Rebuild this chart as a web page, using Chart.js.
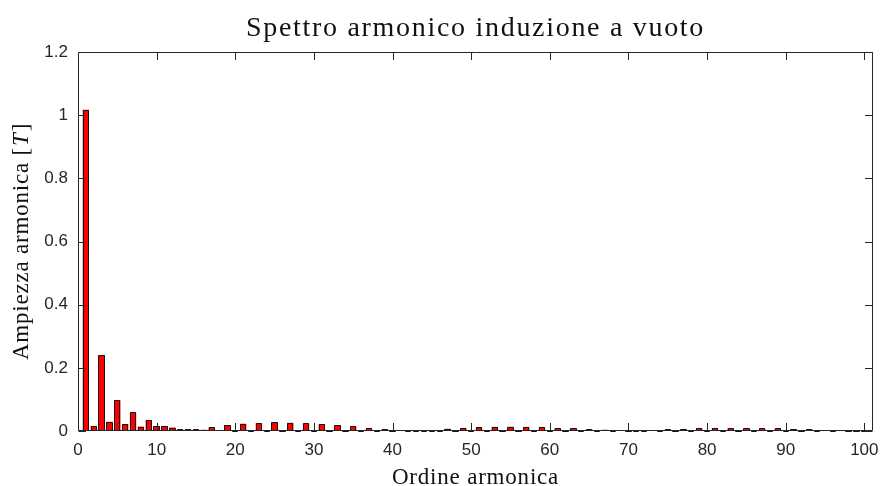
<!DOCTYPE html>
<html>
<head>
<meta charset="utf-8">
<title>Spettro armonico induzione a vuoto</title>
<script src="https://cdn.jsdelivr.net/npm/chart.js@4/dist/chart.umd.min.js"></script>
<style>
  html, body { margin: 0; padding: 0; background: #fff; }
  #wrap { width: 880px; height: 486px; }
</style>
</head>
<body>
<div id="wrap"><canvas id="c" width="880" height="486"></canvas></div>
<script>
// Harmonic orders 1..100 and the amplitude of each harmonic of the no-load flux density [T]
const harmonicOrders = [
  1, 2, 3, 4, 5, 6, 7, 8, 9, 10,
  11, 12, 13, 14, 15, 16, 17, 18, 19, 20,
  21, 22, 23, 24, 25, 26, 27, 28, 29, 30,
  31, 32, 33, 34, 35, 36, 37, 38, 39, 40,
  41, 42, 43, 44, 45, 46, 47, 48, 49, 50,
  51, 52, 53, 54, 55, 56, 57, 58, 59, 60,
  61, 62, 63, 64, 65, 66, 67, 68, 69, 70,
  71, 72, 73, 74, 75, 76, 77, 78, 79, 80,
  81, 82, 83, 84, 85, 86, 87, 88, 89, 90,
  91, 92, 93, 94, 95, 96, 97, 98, 99, 100
];
const amplitudes = [
  1.017, 0.016, 0.240, 0.029, 0.097, 0.022, 0.059, 0.014, 0.035, 0.016,
  0.016, 0.011, 0.005, 0.006, 0.005, 0.004, 0.012, 0.002, 0.019, 0.001,
  0.023, 0.0005, 0.025, 0.0005, 0.027, 0.0005, 0.026, 0.0005, 0.024, 0.0005,
  0.022, 0.0005, 0.018, 0.0005, 0.015, 0.0005, 0.0095, 0.0005, 0.0055, 0.0005,
  0.002, 0.0005, 0.001, 0.0005, 0.0015, 0.0005, 0.007, 0.0005, 0.0095, 0.0005,
  0.012, 0.0005, 0.013, 0.0005, 0.0135, 0.0005, 0.013, 0.0005, 0.013, 0.0005,
  0.0095, 0.0005, 0.0085, 0.0005, 0.006, 0.0005, 0.004, 0.0005, 0.003, 0.0005,
  0.001, 0.0005, 0.002, 0.0005, 0.005, 0.0005, 0.006, 0.0005, 0.0085, 0.0005,
  0.0095, 0.0005, 0.0095, 0.0005, 0.0085, 0.0005, 0.0085, 0.0005, 0.0085, 0.0005,
  0.006, 0.0005, 0.006, 0.0005, 0.003, 0.0005, 0.002, 0.0005, 0.001, 0.0005
];
const xTickValues = [0, 10, 20, 30, 40, 50, 60, 70, 80, 90, 100];
const yTickValues = [0, 0.2, 0.4, 0.6, 0.8, 1, 1.2];

const titleText = 'Spettro armonico induzione a vuoto';
const xLabelText = 'Ordine armonica';
const yLabelMain = 'Ampiezza armonica ';

const AXIS_COLOR = '#262626';
const SERIF = '"Liberation Serif", "DejaVu Serif", serif';
const SANS = '"Liberation Sans", Arial, sans-serif';

// Black edge around every bar, centred on the bar outline
const barEdges = {
  id: 'barEdges',
  afterDatasetsDraw(chart) {
    const { ctx } = chart;
    const meta = chart.getDatasetMeta(0);
    ctx.save();
    ctx.strokeStyle = '#141414';
    ctx.lineWidth = 1;
    ctx.beginPath();
    meta.data.forEach(el => {
      const p = el.getProps(['x', 'y', 'base', 'width'], true);
      const l = Math.round(p.x - p.width / 2) + 0.5;
      const r = Math.round(p.x + p.width / 2) - 0.5;
      const t = Math.round(p.y) + 0.5;
      const b = Math.round(p.base) - 0.5;
      ctx.rect(l, Math.min(t, b), r - l, Math.abs(b - t));
    });
    ctx.stroke();
    ctx.restore();
  }
};

// Box around the plot area with inward tick marks on all four sides
const boxAxes = {
  id: 'boxAxes',
  afterDraw(chart) {
    const { ctx, chartArea: a, scales } = chart;
    const L = Math.round(a.left) + 0.5, R = Math.round(a.right) - 0.5;
    const T = Math.round(a.top) + 0.5, B = Math.round(a.bottom) - 0.5;
    const len = 7.5;
    ctx.save();
    ctx.strokeStyle = AXIS_COLOR;
    ctx.lineWidth = 1;
    ctx.beginPath();
    xTickValues.forEach(v => {
      const px = Math.round(scales.x.getPixelForValue(v)) + 0.5;
      ctx.moveTo(px, B); ctx.lineTo(px, B - len);
      ctx.moveTo(px, T); ctx.lineTo(px, T + len);
    });
    yTickValues.forEach(v => {
      const py = Math.round(scales.y.getPixelForValue(v)) + 0.5;
      ctx.moveTo(L, py); ctx.lineTo(L + len, py);
      ctx.moveTo(R, py); ctx.lineTo(R - len, py);
    });
    ctx.stroke();
    ctx.beginPath();
    ctx.rect(L, T, R - L, B - T);
    ctx.stroke();
    ctx.restore();
  }
};

// Title and axis labels in a serif face
const serifLabels = {
  id: 'serifLabels',
  afterDraw(chart) {
    const { ctx, chartArea: a } = chart;
    const cx = (a.left + a.right) / 2;
    const cy = (a.top + a.bottom) / 2;
    ctx.save();
    ctx.fillStyle = '#111';
    ctx.textBaseline = 'alphabetic';
    ctx.textAlign = 'center';

    ctx.font = '28px ' + SERIF;
    ctx.letterSpacing = '1.7px';
    ctx.fillText(titleText, cx, 36);

    ctx.font = '23px ' + SERIF;
    ctx.letterSpacing = '0.8px';
    ctx.fillText(xLabelText, cx, 484);

    // vertical label: upright part followed by the italic unit symbol in brackets
    ctx.translate(28, cy);
    ctx.rotate(-Math.PI / 2);
    const upright = '23px ' + SERIF;
    const italic = 'italic 23px ' + SERIF;
    ctx.font = upright;
    const w1 = ctx.measureText(yLabelMain + '[').width;
    ctx.font = italic;
    const w2 = ctx.measureText('T').width + 2;
    ctx.font = upright;
    const w3 = ctx.measureText(']').width;
    const total = w1 + w2 + w3;
    ctx.textAlign = 'left';
    const x0 = -total / 2;
    ctx.font = upright;
    ctx.fillText(yLabelMain + '[', x0, 0);
    ctx.font = italic;
    ctx.fillText('T', x0 + w1 + 1, 0);
    ctx.font = upright;
    ctx.fillText(']', x0 + w1 + w2, 0);
    ctx.restore();
  }
};

const points = harmonicOrders.map((h, i) => ({ x: h, y: amplitudes[i] }));

new Chart(document.getElementById('c'), {
  type: 'bar',
  data: {
    datasets: [{
      data: points,
      backgroundColor: '#ff0000',
      borderWidth: 0,
      barPercentage: 0.8,
      categoryPercentage: 1.0
    }]
  },
  options: {
    responsive: false,
    animation: false,
    devicePixelRatio: 1,
    layout: { padding: { top: 52, right: 7, bottom: 0, left: 0 } },
    plugins: {
      legend: { display: false },
      title: { display: false },
      tooltip: { enabled: false }
    },
    scales: {
      x: {
        type: 'linear',
        min: 0,
        max: 101.1,
        offset: false,
        grid: { display: false, drawTicks: false, tickLength: 0 },
        border: { display: false },
        afterBuildTicks(scale) { scale.ticks = xTickValues.map(v => ({ value: v })); },
        afterFit(scale) {
          scale.height = 55;
          scale.paddingLeft = 0;
          scale.paddingRight = 0;
        },
        ticks: {
          padding: 9,
          color: AXIS_COLOR,
          font: { family: SANS, size: 17 },
          maxRotation: 0,
          callback: v => String(v)
        }
      },
      y: {
        type: 'linear',
        min: 0,
        max: 1.2,
        grid: { display: false, drawTicks: false, tickLength: 0 },
        border: { display: false },
        afterBuildTicks(scale) { scale.ticks = yTickValues.map(v => ({ value: v })); },
        afterFit(scale) {
          scale.width = 78;
          scale.paddingTop = 0;
          scale.paddingBottom = 0;
        },
        ticks: {
          padding: 10,
          color: AXIS_COLOR,
          font: { family: SANS, size: 17 },
          callback: v => String(Math.round(v * 10) / 10)
        }
      }
    }
  },
  plugins: [barEdges, boxAxes, serifLabels]
});
</script>
</body>
</html>
